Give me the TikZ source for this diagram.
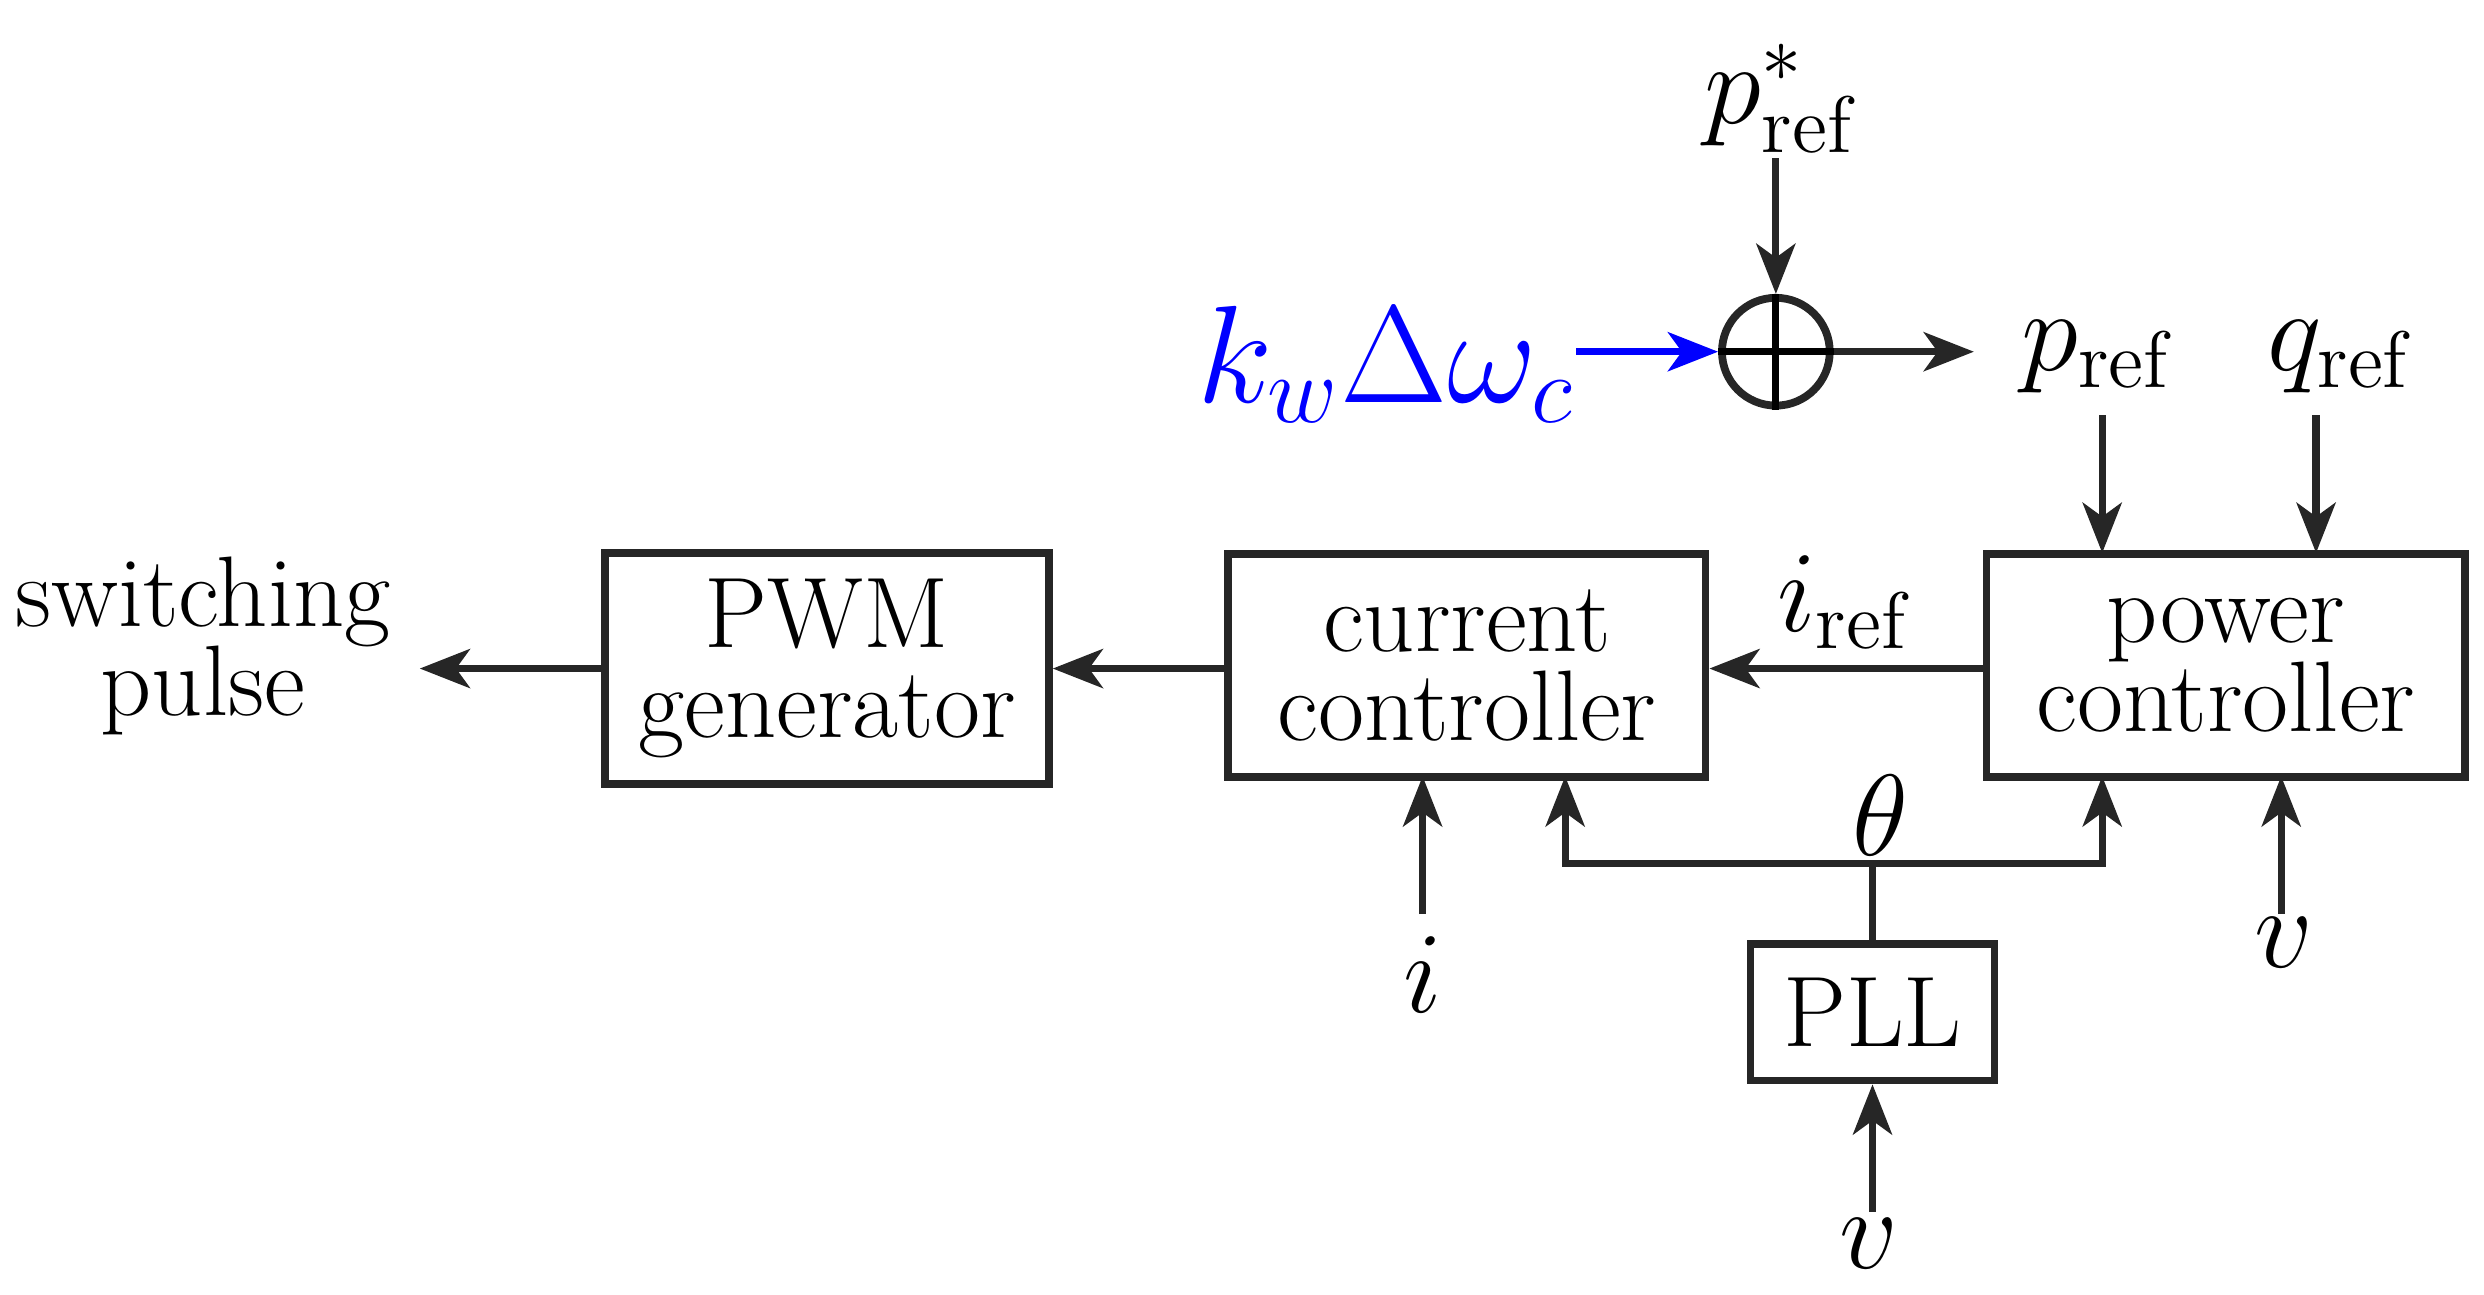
\documentclass[tikz,border=0pt]{standalone}
\usetikzlibrary{arrows.meta}
\begin{document}
\begin{tikzpicture}[x=0.01cm,y=-0.01cm,
  font=\fontsize{18}{19}\selectfont,
  lab/.style={font=\fontsize{21}{24}\selectfont},
  blk/.style={draw=black!85,line width=1.4pt,align=center,inner sep=0pt},
  ar/.style={draw=black!85,line width=1.3pt,-{Stealth[length=9pt,width=7pt,inset=2.5pt]}},
  ln/.style={draw=black!85,line width=1.3pt}]
\useasboundingbox (0,0) rectangle (1568,817);
\node[blk,minimum width=2.8cm,minimum height=1.46cm] (pwm) at (522,422) {PWM\\[-3pt]generator};
\node[blk,minimum width=3.01cm,minimum height=1.41cm] (cc) at (926,420) {current\\[-3pt]controller};
\node[blk,minimum width=3.02cm,minimum height=1.41cm] (pc) at (1405,420) {power\\[-3pt]controller};
\node[blk,minimum width=1.54cm,minimum height=0.86cm] (pll) at (1182,639) {PLL};
\node[draw=black!85,line width=1.4pt,circle,minimum size=0.68cm,inner sep=0pt] (sum) at (1121,222) {};
\draw[line width=1.3pt] (sum.north)--(sum.south) (sum.west)--(sum.east);
\node[lab] (pstar) at (1125,62) {$p^*_{\mathrm{ref}}$};
\node[lab,text=blue,font=\fontsize{23}{26}\selectfont] (kw) at (875,230) {$k_w\Delta\omega_c$};
\node[lab] (pref) at (1325,225) {$p_{\mathrm{ref}}$};
\node[lab] (qref) at (1478,225) {$q_{\mathrm{ref}}$};
\node[lab] (iref) at (1165,380) {$i_{\mathrm{ref}}$};
\node[align=center] (sw) at (128,408) {switching\\[-3pt]pulse};
\node[lab] (il) at (898,615) {$i$};
\node[lab] (th) at (1187,515) {$\theta$};
\node[lab] (v1) at (1442,595) {$v$};
\node[lab] (v2) at (1180,785) {$v$};
\coordinate (pstop) at (1121,100);
\coordinate (kwe) at (995,222);
\coordinate (swe) at (265,422);
\coordinate (pre) at (1246,222);
\draw[ar] (pstop)--(sum.north);
\draw[ar,blue] (kwe)--(sum.west);
\draw[ar] (sum.east)--(pre);
\draw[ar] (1327,262)--(1327,349);
\draw[ar] (1462,262)--(1462,349);
\draw[ar] (pc.west|-0,422)--(cc.east|-0,422);
\draw[ar] (cc.west|-0,422)--(pwm.east|-0,422);
\draw[ar] (pwm.west|-0,422)--(swe);
\draw[ar] (898,577)--(898,490);
\draw[ar] (1440,577)--(1440,490);
\draw[ar] (1182,765)--(pll.south);
\draw[ln] (pll.north)--(1182,545);
\draw[ar] (1182,545)-|(988,490);
\draw[ar] (1182,545)-|(1327,490);
\end{tikzpicture}
\end{document}
